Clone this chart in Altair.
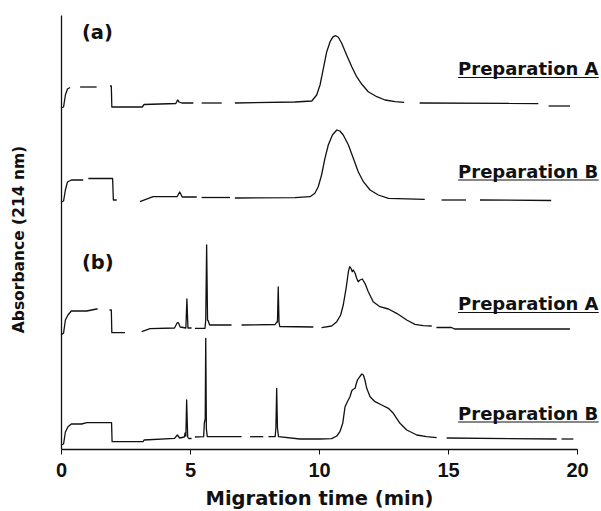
import altair as alt
import pandas as pd

# Capillary electrophoresis traces: migration time (min) and absorbance signal
# (arbitrary units, relative to each trace's own baseline).
# A None entry marks a break in the recorded trace.

# (a) Preparation A
A1_T = [0.00, 0.10, 0.17, 0.25, 0.35, None,
        0.74, 1.38, None,
        1.90, 1.95, 1.97, 3.15, 3.22, 4.45, 4.52, 4.58, 4.68, 5.13, None,
        5.45, 6.23, None,
        6.74, 9.07, 9.72, 9.91, 10.04, 10.17, 10.30, 10.43, 10.55, 10.65, 10.75,
        10.88, 11.07, 11.27, 11.46, 11.66, 11.91, 12.24, 12.56, 12.95, 13.30, None,
        13.90, 18.50, None,
        18.90, 19.73]
A1_V = [-5, -4, 8, 14, 15.5, None,
        16, 16, None,
        17, 17, -4, -4, -1.5, -0.5, 3, 1, 0, 0, None,
        0, 0, None,
        0, 1, 2, 8, 18, 34.7, 51.3, 61.3, 66.3, 67.3, 65.7,
        59.7, 48, 36.3, 26.3, 18.7, 11.3, 6.3, 3, 1.3, 0.7, None,
        0, -0.5, None,
        -3, -3]

# (a) Preparation B
B1_T = [0.00, 0.10, 0.17, 0.25, 0.40, 0.86, None,
        1.06, 2.00, 2.03, 2.16, None,
        3.06, 3.57, 4.50, 4.60, 4.70, 5.26, None,
        5.45, 6.55, None,
        6.74, 9.07, 9.65, 9.84, 9.97, 10.10, 10.23, 10.36, 10.52, 10.69, 10.81,
        10.94, 11.14, 11.33, 11.52, 11.72, 11.98, 12.30, 12.69, 14.10, None,
        14.75, 15.70, None,
        16.24, 19.00]
B1_V = [-4, -3, 8, 16, 18, 18, None,
        19.5, 19.5, -2, -2, None,
        -3.7, 1.3, 1.3, 6, 1, 1, None,
        0.5, 0.5, None,
        0, 0.3, 1.3, 4.7, 11.3, 23, 39.7, 53, 63, 68, 67,
        63, 53, 39.7, 26.3, 16.3, 8, 3, -0.3, -1.3, None,
        -2, -2, None,
        -2, -2.5]

# (b) Preparation A
A2_T = [0.00, 0.10, 0.17, 0.27, 0.40, 1.00, 1.38, 1.42, None,
        1.88, 1.95, 1.97, 2.48, None,
        3.13, 3.45, 4.40, 4.50, 4.55, 4.62, 4.84, 4.88, 4.92, 5.06, None,
        5.19, 5.58, 5.61, 5.645, 5.68, 5.71, 5.76, 6.61, None,
        7.00, 8.30, 8.36, 8.39, 8.42, 8.45, 8.48, 9.78, None,
        10.10, 10.49, 10.69, 10.84, 10.94, 11.05, 11.14, 11.19, 11.24, 11.29,
        11.33, 11.40, 11.46, 11.52, 11.59, 11.68, 11.78, 11.91, 12.10, 12.36,
        12.69, 13.01, 13.40, 13.72, 14.04, 14.37, None,
        14.55, 15.14, 15.25, 19.73]
A2_V = [-6, -4, 9, 14, 18, 18, 20, 20, None,
        19, 19, -3.7, -3.7, None,
        -2.7, 0.3, 1, 6, 6.3, 2, 1, 30, 1, 1, None,
        0.7, 0.7, 9, 84, 9, 8, 4, 4, None,
        4, 4.5, 7, 7, 42, 7, 2.5, 2, None,
        1.3, 3, 7.3, 14, 24, 40.7, 57.3, 62.3, 60.7, 57.3,
        59, 55.7, 50.7, 47.3, 49, 50, 45.7, 37.3, 27.3, 22.3,
        20, 15.7, 9, 4.7, 3.3, 3, None,
        1.5, 1.5, 0, 0]

# (b) Preparation B
B2_T = [0.00, 0.10, 0.17, 0.27, 0.40, 0.80, 1.00, 1.96, 1.98, 3.18, 3.22,
        4.40, 4.51, 4.60, 4.78, 4.81, 4.84, 4.87, 4.91, 4.95, 5.06, None,
        5.19, 5.53, 5.555, 5.59, 5.61, 5.635, 5.67, 7.00, None,
        7.33, 7.84, None,
        8.04, 8.30, 8.33, 8.36, 8.39, 8.43, 9.26, 10.04, 10.49, 10.69, 10.81,
        10.92, 11.01, 11.10, 11.20, 11.27, 11.33, 11.40, 11.43, 11.49, 11.56,
        11.66, 11.72, 11.78, 11.85, 11.98, 12.17, 12.43, 12.69, 12.88, 13.14,
        13.40, 13.79, 14.17, 14.56, None,
        14.95, 19.21, None,
        19.40, 19.86]
B2_V = [-6, -5, 7, 12.3, 15, 15, 16.3, 16.3, -2.7, -2.7, -1,
        0.7, 4, 1, 2, 6, 3, 39, 2, 0.5, 0.5, None,
        2, 2.3, 16, 20, 100.7, 10, 2.3, 2.3, None,
        2.3, 2.3, None,
        2.3, 2.3, 11, 50.7, 11, 2.3, 0, 0, 0.3, 3, 7.3,
        15.7, 32.3, 37.3, 42.3, 48.3, 49.7, 50.7, 54, 59, 61.7,
        65, 64, 59, 50.7, 42.3, 37.3, 34, 30.7, 25.7, 15.7,
        9, 4, 2.3, 1.3, None,
        1, 0, None,
        0, 0]

TRACE_NAMES = ["(a) Preparation A", "(a) Preparation B",
               "(b) Preparation A", "(b) Preparation B"]
TRACE_T = [A1_T, B1_T, A2_T, B2_T]
TRACE_V = [A1_V, B1_V, A2_V, B2_V]

PANEL_LABELS = ["(a)", "(b)"]
PREP_LABELS = ["Preparation A", "Preparation B", "Preparation A", "Preparation B"]

# Vertical stacking of the four traces on the shared absorbance axis
TRACE_OFFSETS = [346, 251, 120, 10]
Y_MAX = 434

INK = "#111111"

rows = []
idx = 0
for name, ts, vs, off in zip(TRACE_NAMES, TRACE_T, TRACE_V, TRACE_OFFSETS):
    seg = 0
    for t, v in zip(ts, vs):
        if t is None or v is None:
            seg += 1
            continue
        rows.append({"trace": name, "segment": f"{name} #{seg}",
                     "time": t, "absorbance": v + off, "idx": idx})
        idx += 1
traces = pd.DataFrame(rows)

x_scale = alt.Scale(domain=[0, 20], nice=False, zero=False)
y_scale = alt.Scale(domain=[0, Y_MAX], nice=False, zero=False)

x_axis = alt.Axis(
    values=[0, 5, 10, 15, 20], format="d", grid=False,
    domainColor=INK, domainWidth=1.3, tickColor=INK, tickWidth=1, tickSize=5,
    labelFont="Liberation Sans", labelFontWeight="bold", labelFontSize=20,
    labelColor=INK, labelPadding=6.5, labelFlush=False,
    title="Migration time (min)", titleFont="DejaVu Sans",
    titleFontWeight="bold", titleFontSize=19.5, titleColor=INK, titleY=40,
)
y_axis = alt.Axis(
    labels=False, ticks=False, grid=False,
    domainColor=INK, domainWidth=1.3,
    title="Absorbance (214 nm)", titleFont="DejaVu Sans",
    titleFontWeight="bold", titleFontSize=15.5, titleColor=INK,
    titleX=-43, titleY=224, titleBaseline="middle",
)

lines = alt.Chart(traces).mark_line(
    color=INK, strokeWidth=1.3, strokeJoin="round"
).encode(
    x=alt.X("time:Q", scale=x_scale, axis=x_axis),
    y=alt.Y("absorbance:Q", scale=y_scale, axis=y_axis),
    detail="segment:N",
    order="idx:Q",
)

# Panel letters
panel_df = pd.DataFrame({"text": PANEL_LABELS, "time": [0.81, 0.81],
                         "absorbance": [416, 186]})
panels = alt.Chart(panel_df).mark_text(
    font="DejaVu Sans", fontWeight="bold", fontSize=19.5, color=INK,
    align="left", baseline="middle",
).encode(x=alt.X("time:Q", scale=x_scale), y=alt.Y("absorbance:Q", scale=y_scale),
         text="text:N")

# Underlined preparation labels to the right of each trace
LABEL_START = 15.39
LABEL_END = 20.84
label_base = [374, 271.5, 139, 29.5]
prep_df = pd.DataFrame({"text": PREP_LABELS, "time": LABEL_START,
                        "time2": LABEL_END, "absorbance": label_base,
                        "under": [b - 2.5 for b in label_base]})
preps = alt.Chart(prep_df).mark_text(
    font="DejaVu Sans", fontWeight="bold", fontSize=18, color=INK,
    align="left", baseline="alphabetic",
).encode(x=alt.X("time:Q", scale=x_scale), y=alt.Y("absorbance:Q", scale=y_scale),
         text="text:N")
underlines = alt.Chart(prep_df).mark_rule(color=INK, strokeWidth=1.2).encode(
    x=alt.X("time:Q", scale=x_scale), x2="time2:Q",
    y=alt.Y("under:Q", scale=y_scale),
)

chart = alt.layer(lines, panels, preps, underlines).properties(
    width=516, height=434,
    autosize=alt.AutoSizeParams(type="none"),
    padding={"left": 61, "top": 15, "right": 24, "bottom": 62},
    background="white",
).configure_view(stroke=None)

chart.save("out.html", embed_options={"renderer": "svg", "actions": False})
